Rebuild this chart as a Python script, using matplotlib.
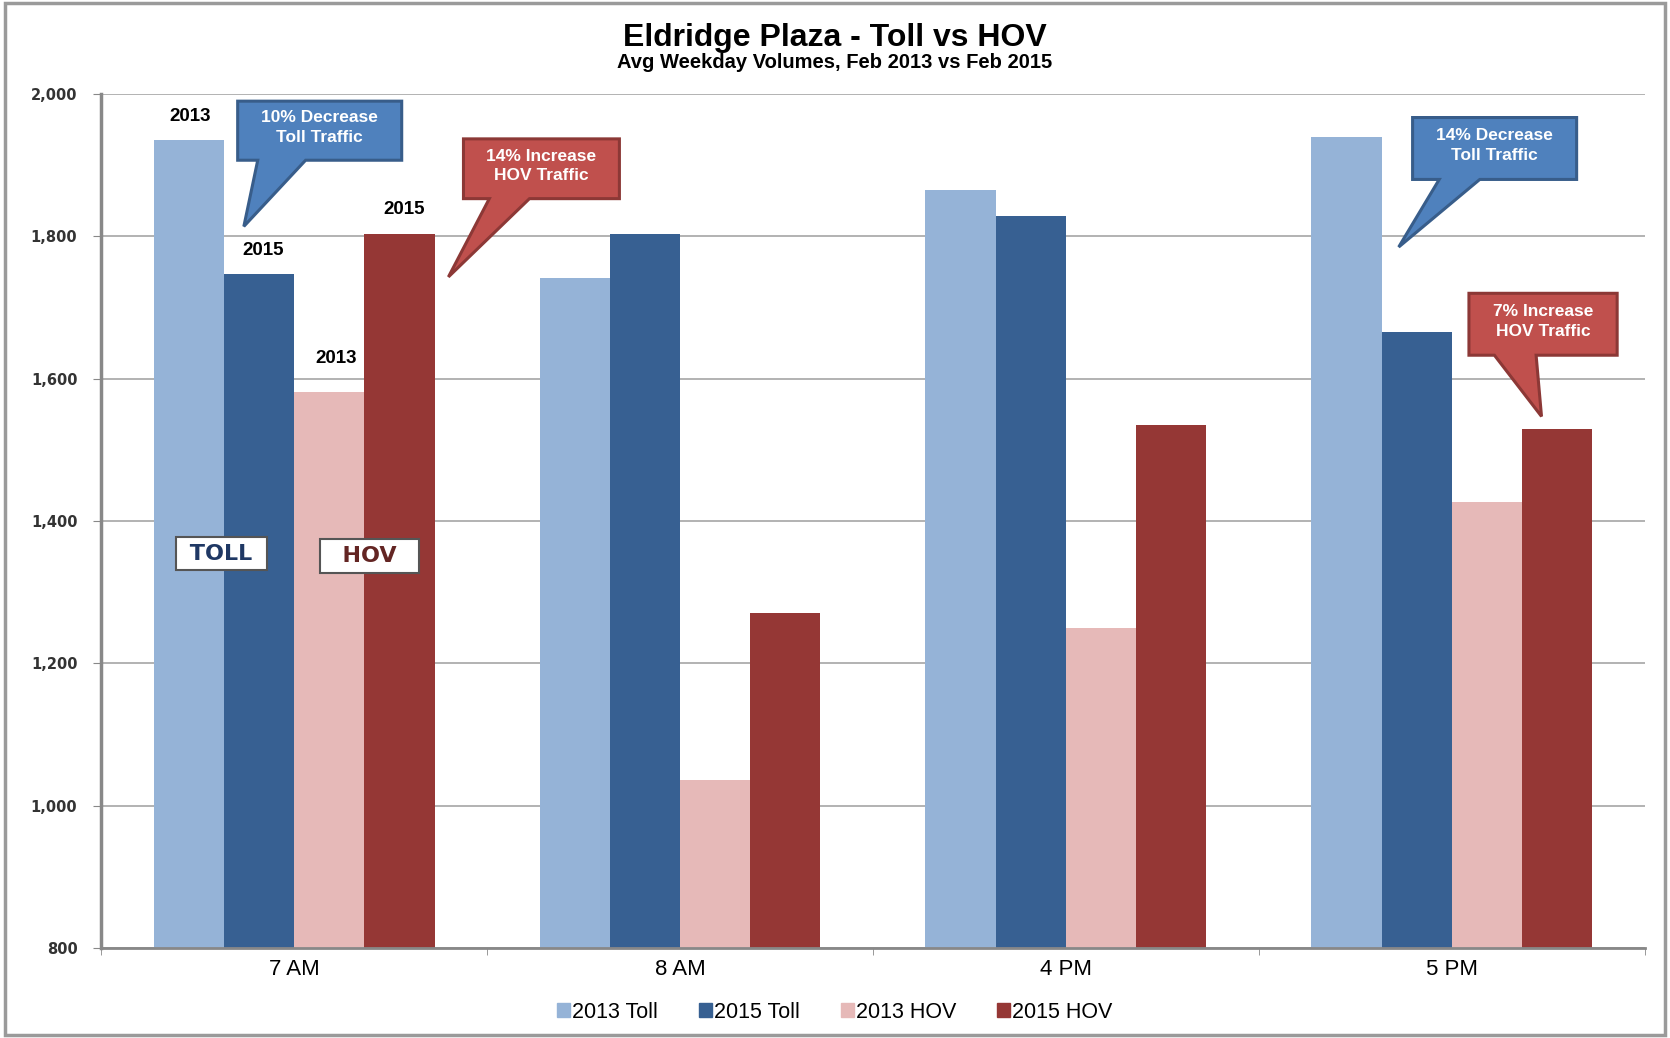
import numpy as np
import matplotlib
matplotlib.use("Agg")
import matplotlib.pyplot as plt
from matplotlib.patches import Rectangle, Patch, Polygon

plt.rcParams['font.family'] = ['Liberation Sans', 'DejaVu Sans']

# --- data ---
times = ["7 AM", "8 AM", "4 PM", "5 PM"]
series_names = ["2013 Toll", "2015 Toll", "2013 HOV", "2015 HOV"]
toll_2013 = [1936, 1741, 1865, 1939]
toll_2015 = [1747, 1804, 1828, 1665]
hov_2013 = [1581, 1036, 1249, 1427]
hov_2015 = [1804, 1271, 1535, 1529]
series_vals = [toll_2013, toll_2015, hov_2013, hov_2015]
colors = ["#95B3D7", "#376092", "#E6B9B8", "#953735"]

y_ticks = [800, 1000, 1200, 1400, 1600, 1800, 2000]

# callouts: text, box (x0, x1, ybot, ytop), tail base (xl, xr), tip (x, y), face, edge
callouts = [
    ("10% Decrease\nToll Traffic", (-0.146, 0.279, 1907, 1990), (-0.094, 0.030), (-0.13, 1814),
     "#4F81BD", "#385D8A"),
    ("14% Increase\nHOV Traffic", (0.439, 0.843, 1853, 1937), (0.506, 0.610), (0.40, 1743),
     "#C0504D", "#8C3836"),
    ("14% Decrease\nToll Traffic", (2.898, 3.323, 1880, 1967), (2.967, 3.072), (2.862, 1785),
     "#4F81BD", "#385D8A"),
    ("7% Increase\nHOV Traffic", (3.044, 3.428, 1633, 1720), (3.110, 3.218), (3.232, 1547),
     "#C0504D", "#8C3836"),
]
year_labels = [("2013", -0.268, 1969), ("2015", -0.08, 1780),
               ("2013", 0.108, 1629), ("2015", 0.285, 1838)]

fig = plt.figure(figsize=(16.7, 10.38), dpi=100)
ax = fig.add_axes([0.0605, 0.0867, 0.9245, 0.8227])

x = np.arange(len(times))
w = 0.182
for i, (vals, c, name) in enumerate(zip(series_vals, colors, series_names)):
    ax.bar(x + (i - 1.5) * w, vals, w, color=c, label=name, zorder=2)

ax.set_xlim(-0.5, len(times) - 0.5)
ax.set_ylim(800, 2000)
ax.set_yticks(y_ticks)
ax.set_yticklabels([f"{v:,}" for v in y_ticks], fontsize=10.5, fontweight='bold',
                   color="#333333", family='DejaVu Sans')
ax.set_xticks(x)
ax.set_xticklabels(times, fontsize=16)
ax.set_xticks(np.arange(-0.5, len(times)), minor=True)
ax.tick_params(axis='x', which='major', length=0, pad=8)
ax.tick_params(axis='x', which='minor', length=5, color="#888888")
ax.tick_params(axis='y', length=6, color="#888888", pad=11)

ax.grid(axis='y', color="#A6A6A6", linewidth=1.2, zorder=0)
for s in ['top', 'right']:
    ax.spines[s].set_visible(False)
ax.spines['left'].set_color("#888888")
ax.spines['left'].set_linewidth(2.5)
ax.spines['bottom'].set_color("#888888")
ax.spines['bottom'].set_linewidth(2)

fig.text(0.5, 0.963, "Eldridge Plaza - Toll vs HOV", ha='center', va='center',
         fontsize=23, fontweight='bold')
fig.text(0.5, 0.940, "Avg Weekday Volumes, Feb 2013 vs Feb 2015", ha='center', va='center',
         fontsize=14.5, fontweight='bold')

# speech-bubble callouts
for txt, (x0, x1, yb, yt), (bl, br), (tx, ty), fc, ec in callouts:
    verts = [(x0, yt), (x1, yt), (x1, yb), (br, yb), (tx, ty), (bl, yb), (x0, yb)]
    ax.add_patch(Polygon(verts, closed=True, fc=fc, ec=ec, lw=2.2, zorder=5,
                         joinstyle='miter'))
    ax.text((x0 + x1) / 2, (yb + yt) / 2 + 4, txt, ha='center', va='center',
            fontsize=12.5, fontweight='bold', color='white', linespacing=1.4, zorder=6)

for txt, lx, ly in year_labels:
    ax.text(lx, ly, txt, ha='center', va='center', fontsize=13.5, fontweight='bold', zorder=4)

ax.text(-0.188, 1354, " TOLL ", ha='center', va='center', fontsize=16, fontweight='bold',
        family='DejaVu Sans', color="#1F3864",
        bbox=dict(boxstyle="square,pad=0.3", fc='white', ec="#555555", lw=1.5), zorder=5)
ax.text(0.196, 1351, "  HOV  ", ha='center', va='center', fontsize=16, fontweight='bold',
        family='DejaVu Sans', color="#632523",
        bbox=dict(boxstyle="square,pad=0.3", fc='white', ec="#555555", lw=1.5), zorder=5)

handles = [Patch(color=c, label=n) for c, n in zip(colors, series_names)]
fig.legend(handles=handles, loc='center', bbox_to_anchor=(0.5, 0.025), ncol=4,
           frameon=False, fontsize=15.5, handlelength=0.6, handleheight=0.6,
           handletextpad=0.1, columnspacing=1.9)

fig.patches.append(Rectangle((0.003, 0.003), 0.994, 0.994, transform=fig.transFigure,
                             fill=False, ec="#9A9A9A", lw=2.5))

fig.savefig("out.png", dpi=100)
